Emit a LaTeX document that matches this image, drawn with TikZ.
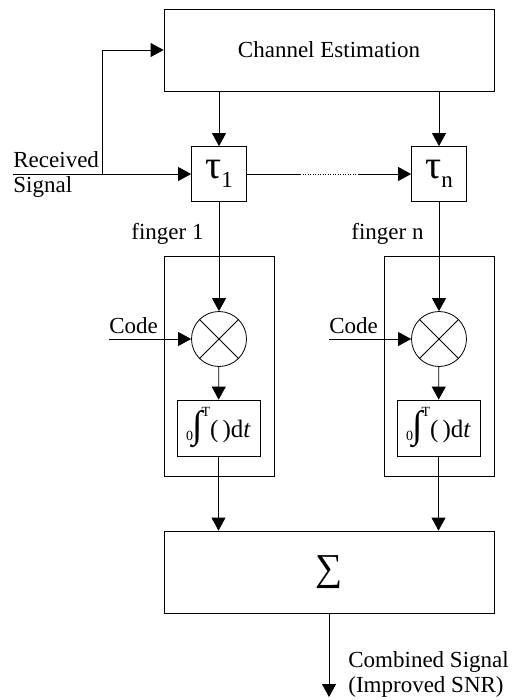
\documentclass[tikz,border=0pt]{standalone}
\usepackage{fontspec}
\setmainfont{Liberation Serif}
\usetikzlibrary{arrows.meta}
\newcommand{\integop}{\raisebox{-3pt}{\fontsize{14}{14}\selectfont 0}\kern-1pt{\fontsize{38}{38}\selectfont ∫}\kern-1pt\raisebox{21pt}{\fontsize{14}{14}\selectfont T}{\fontsize{25}{25}\selectfont(\hspace{4pt})d\textit{t}}}
\begin{document}
\begin{tikzpicture}[x=1pt, y=-1pt, line width=0.8pt, >={Triangle[length=13pt,width=14pt]},
  font=\fontsize{23}{25}\selectfont,
  blk/.style={draw, inner sep=0pt},
  txt/.style={inner sep=0pt}]
\useasboundingbox (0,0) rectangle (511,700);
\node[blk, minimum width=330pt, minimum height=82pt] (chest) at (329,50) {Channel Estimation};
\node[blk, minimum size=55pt] (tau1) at (219,174) {{\fontsize{40}{40}\selectfont τ}\raisebox{-9pt}{1}};
\node[blk, minimum size=55pt] (taun) at (439,174) {{\fontsize{40}{40}\selectfont τ}\raisebox{-9pt}{n}};
\node[blk, minimum width=110pt, minimum height=220pt] (fing1) at (219,366) {};
\node[blk, minimum width=110pt, minimum height=220pt] (fingn) at (439,366) {};
\node[draw, circle, minimum size=55pt, inner sep=0pt] (mult1) at (219,339) {};
\node[draw, circle, minimum size=55pt, inner sep=0pt] (multn) at (439,339) {};
\node[blk, minimum width=83pt, minimum height=56pt] (int1) at (218.5,428) {\integop};
\node[blk, minimum width=83pt, minimum height=56pt] (intn) at (438.5,428) {\integop};
\node[blk, minimum width=330pt, minimum height=82pt] (sum) at (329,572) {{\fontsize{38}{38}\selectfont ∑}};
% labels
\node[txt, anchor=west, align=left] (rxlbl) at (13,175) {Received\\Signal};
\node[txt, anchor=base east] (f1lbl) at (204,240) {finger 1};
\node[txt, anchor=base east] (fnlbl) at (424,240) {finger n};
\node[txt, anchor=base west] (code1lbl) at (109,333) {Code};
\node[txt, anchor=base west] (codenlbl) at (329,333) {Code};
\node[txt, anchor=west, align=left] (outlbl) at (348,674) {Combined Signal\\(Improved SNR)};
% free ends
\coordinate (rxin) at (13,174);
\coordinate (rxbr) at (102,174);
\coordinate (dot1) at (300,174);
\coordinate (dot2) at (358,174);
\coordinate (code1) at (109,339);
\coordinate (coden) at (329,339);
\coordinate (out) at (329,697);
% connectors
\draw[->] (rxin) -- (tau1);
\draw[->] (rxbr) |- (chest.west);
\draw[->] (chest.south -| tau1) -- (tau1);
\draw[->] (chest.south -| taun) -- (taun);
\draw (tau1) -- (dot1);
\draw[dash pattern=on 1pt off 1.5pt] (dot1) -- (dot2);
\draw[->] (dot2) -- (taun);
\draw[->] (tau1) -- (mult1);
\draw[->] (taun) -- (multn);
\draw (mult1.north west) -- (mult1.south east);
\draw (mult1.north east) -- (mult1.south west);
\draw (multn.north west) -- (multn.south east);
\draw (multn.north east) -- (multn.south west);
\draw[->] (code1) -- (mult1);
\draw[->] (coden) -- (multn);
\draw[->] (mult1) -- (int1);
\draw[->] (multn) -- (intn);
\draw[->] (int1) -- (int1 |- sum.north);
\draw[->] (intn) -- (intn |- sum.north);
\draw[->] (sum) -- (out);
\end{tikzpicture}
\end{document}
